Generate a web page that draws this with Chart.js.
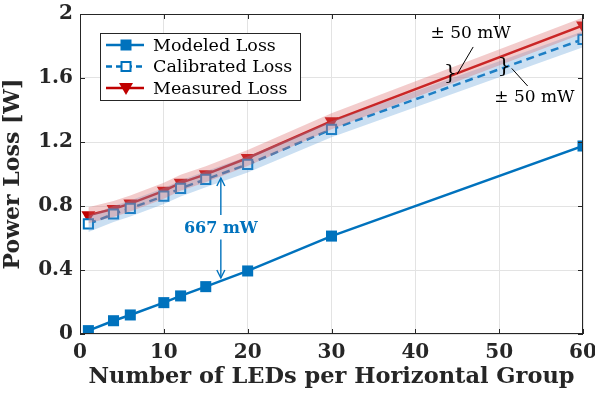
<!DOCTYPE html>
<html><head><meta charset="utf-8">
<script src="https://cdn.jsdelivr.net/npm/chart.js@4"></script>
<style>html,body{margin:0;padding:0;background:#fff}#wrap{width:595px;height:393px}</style>
</head><body><div id="wrap"><canvas id="c" width="595" height="393"></canvas></div>
<script>
const ledCounts = [1, 4, 6, 10, 12, 15, 20, 30, 60];
const modeledLoss = [0.021, 0.083, 0.119, 0.196, 0.238, 0.296, 0.394, 0.612, 1.175];
const calibratedLoss = [0.688, 0.75, 0.785, 0.862, 0.91, 0.967, 1.06, 1.279, 1.842];
const measuredLoss = [0.742, 0.782, 0.815, 0.895, 0.945, 0.998, 1.1, 1.33, 1.928];
const bandHalfWidth = 0.05;
const xTicks = [0, 10, 20, 30, 40, 50, 60];
const yTicks = [0, 0.4, 0.8, 1.2, 1.6, 2];
const legendLabels = ['Modeled Loss', 'Calibrated Loss', 'Measured Loss'];

const BLUE = '#0072BD', RED = '#C00000';
const pts = (arr, d) => ledCounts.map((x, i) => ({x, y: arr[i] + (d || 0)}));
const FONT = '"DejaVu Serif", serif';

const overlay = {
  id: 'overlay',
  afterDraw(chart) {
    const {ctx, chartArea: a, scales: {x, y}} = chart;
    ctx.save();
    ctx.strokeStyle = '#262626'; ctx.lineWidth = 1;
    ctx.strokeRect(a.left + 0.5, a.top + 0.5, a.right - a.left - 1, a.bottom - a.top - 1);
    ctx.beginPath();
    yTicks.forEach(v => { const py = Math.round(y.getPixelForValue(v)) + 0.5; ctx.moveTo(a.left, py); ctx.lineTo(a.left + 5, py); ctx.moveTo(a.right, py); ctx.lineTo(a.right - 5, py); });
    xTicks.forEach(v => { const px = Math.round(x.getPixelForValue(v)) + 0.5; ctx.moveTo(px, a.bottom); ctx.lineTo(px, a.bottom - 5); ctx.moveTo(px, a.top); ctx.lineTo(px, a.top + 5); });
    ctx.stroke();

    // 667 mW annotation
    const ax = x.getPixelForValue(16.8);
    ctx.strokeStyle = BLUE; ctx.fillStyle = BLUE; ctx.lineWidth = 1.4;
    const arrow = (x0, y0, y1) => {
      ctx.beginPath(); ctx.moveTo(x0, y0); ctx.lineTo(x0, y1); ctx.stroke();
      const s = y1 < y0 ? 1 : -1;
      ctx.beginPath(); ctx.moveTo(x0 - 4, y1 + s * 8); ctx.lineTo(x0, y1); ctx.lineTo(x0 + 4, y1 + s * 8); ctx.stroke();
    };
    arrow(ax, y.getPixelForValue(0.744), y.getPixelForValue(0.975));
    arrow(ax, y.getPixelForValue(0.59), y.getPixelForValue(0.35));
    ctx.font = 'bold 16px ' + FONT; ctx.textAlign = 'center'; ctx.textBaseline = 'middle';
    ctx.fillText('667 mW', ax, y.getPixelForValue(0.658));

    // ±50 mW annotations
    ctx.fillStyle = '#000'; ctx.strokeStyle = '#000'; ctx.lineWidth = 1;
    ctx.font = '17px ' + FONT;
    ctx.fillText('\u00B1 50 mW', x.getPixelForValue(46.6), y.getPixelForValue(1.88));
    ctx.fillText('\u00B1 50 mW', x.getPixelForValue(54.2), y.getPixelForValue(1.475));
    ctx.beginPath();
    ctx.moveTo(x.getPixelForValue(46.9), y.getPixelForValue(1.794)); ctx.lineTo(x.getPixelForValue(45.0), y.getPixelForValue(1.625));
    ctx.moveTo(x.getPixelForValue(51.5), y.getPixelForValue(1.66)); ctx.lineTo(x.getPixelForValue(53.4), y.getPixelForValue(1.55));
    ctx.stroke();
    ctx.font = '21px ' + FONT;
    ctx.fillText('}', x.getPixelForValue(44.2), y.getPixelForValue(1.625));
    ctx.fillText('}', x.getPixelForValue(50.6), y.getPixelForValue(1.67));

    // legend
    const lx = 100, ly = 33, lw = 200, lh = 67;
    ctx.fillStyle = '#fff'; ctx.fillRect(lx, ly, lw, lh);
    ctx.strokeStyle = '#262626'; ctx.lineWidth = 1; ctx.strokeRect(lx + 0.5, ly + 0.5, lw, lh);
    const rows = [
      {color: BLUE, dash: [], marker: 'sq'},
      {color: BLUE, dash: [6, 4], marker: 'osq'},
      {color: RED, dash: [], marker: 'tri'}
    ];
    rows.forEach((r, i) => {
      const cy = ly + 12 + i * 21.5;
      ctx.strokeStyle = r.color; ctx.fillStyle = r.color; ctx.lineWidth = 2.5; ctx.setLineDash(r.dash);
      ctx.beginPath(); ctx.moveTo(lx + 6, cy); ctx.lineTo(lx + 44, cy); ctx.stroke();
      ctx.setLineDash([]);
      const mx = lx + 26;
      if (r.marker === 'sq') ctx.fillRect(mx - 5.5, cy - 5.5, 11, 11);
      else if (r.marker === 'osq') { ctx.fillStyle = '#fff'; ctx.fillRect(mx - 4.5, cy - 4.5, 9, 9); ctx.lineWidth = 2; ctx.strokeRect(mx - 4.5, cy - 4.5, 9, 9); }
      else { ctx.beginPath(); ctx.moveTo(mx - 7, cy - 5); ctx.lineTo(mx + 7, cy - 5); ctx.lineTo(mx, cy + 7); ctx.closePath(); ctx.fill(); }
      ctx.fillStyle = '#000'; ctx.font = '17.5px ' + FONT; ctx.textAlign = 'left'; ctx.textBaseline = 'middle';
      ctx.fillText(legendLabels[i], lx + 53, cy + 1);
    });
    ctx.restore();
  }
};

new Chart(document.getElementById('c'), {
  type: 'line',
  data: {
    datasets: [
      {data: pts(measuredLoss, bandHalfWidth), borderWidth: 0, pointRadius: 0, fill: false, backgroundColor: 'rgba(220,110,110,0.35)'},
      {data: pts(measuredLoss, -bandHalfWidth), borderWidth: 0, pointRadius: 0, fill: '-1', backgroundColor: 'rgba(220,110,110,0.35)'},
      {data: pts(calibratedLoss, bandHalfWidth), borderWidth: 0, pointRadius: 0, fill: false, backgroundColor: 'rgba(90,155,215,0.32)'},
      {data: pts(calibratedLoss, -bandHalfWidth), borderWidth: 0, pointRadius: 0, fill: '-1', backgroundColor: 'rgba(90,155,215,0.32)'},
      {label: legendLabels[0], data: pts(modeledLoss), borderColor: BLUE, backgroundColor: BLUE, borderWidth: 2.5, pointStyle: 'rect', pointRadius: 7.8, pointBorderWidth: 0, fill: false},
      {label: legendLabels[1], data: pts(calibratedLoss), borderColor: BLUE, backgroundColor: '#fff', borderWidth: 2.5, borderDash: [8, 5], pointStyle: 'rect', pointRadius: 6.5, pointBorderWidth: 2, pointBorderColor: BLUE, fill: false},
      {label: legendLabels[2], data: pts(measuredLoss), borderColor: RED, backgroundColor: RED, borderWidth: 2.5, pointStyle: 'triangle', pointRotation: 180, pointRadius: 8, pointBorderWidth: 0, fill: false}
    ]
  },
  options: {
    responsive: false, animation: false, events: [],
    layout: {padding: {top: 14, right: 12, left: 0, bottom: 0}},
    plugins: {legend: {display: false}, tooltip: {enabled: false}},
    elements: {line: {tension: 0}},
    scales: {
      x: {type: 'linear', min: 0, max: 60,
        afterBuildTicks: s => { s.ticks = xTicks.map(v => ({value: v})); },
        afterFit: s => { s.height = 59; s.paddingLeft = 0; s.paddingRight = 0; },
        grid: {color: '#e3e3e3', drawTicks: false},
        border: {display: false},
        ticks: {color: '#262626', padding: 7, font: {family: FONT, size: 20, weight: 'bold'}, maxRotation: 0},
        title: {display: true, text: 'Number of LEDs per Horizontal Group', color: '#262626', padding: {top: 0, bottom: 2}, font: {family: FONT, size: 22.5, weight: 'bold'}}
      },
      y: {min: 0, max: 2,
        afterBuildTicks: s => { s.ticks = yTicks.map(v => ({value: v})); },
        afterFit: s => { s.width = 80; s.paddingTop = 0; s.paddingBottom = 0; },
        grid: {color: '#e3e3e3', drawTicks: false},
        border: {display: false},
        ticks: {color: '#262626', padding: 7, font: {family: FONT, size: 20, weight: 'bold'}, callback: v => String(Math.round(v * 10) / 10)},
        title: {display: true, text: 'Power Loss [W]', color: '#262626', padding: {top: 0, bottom: 0}, font: {family: FONT, size: 22, weight: 'bold'}}
      }
    }
  },
  plugins: [overlay]
});
</script></body></html>
